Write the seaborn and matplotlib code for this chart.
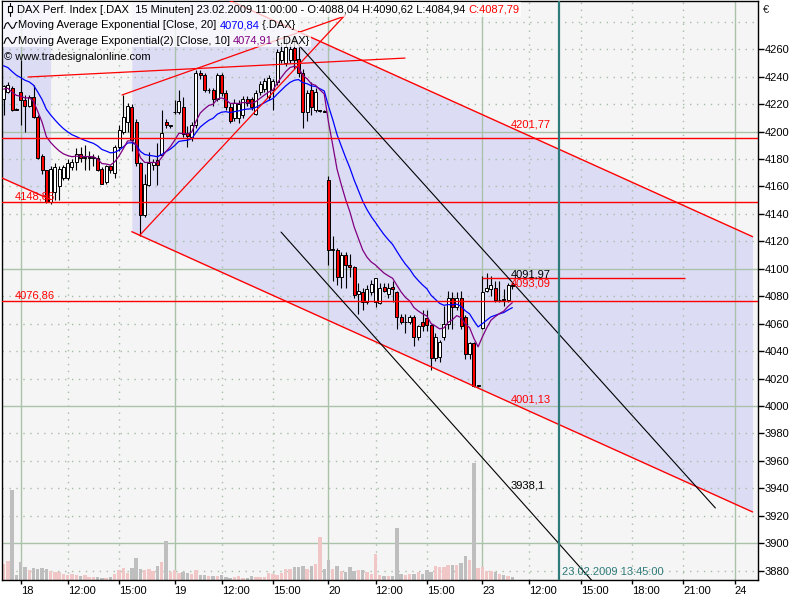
import numpy as np
import matplotlib
matplotlib.use("Agg")
import matplotlib.pyplot as plt
from matplotlib.patches import Rectangle
from matplotlib.lines import Line2D
import matplotlib.transforms as mtransforms
import seaborn as sns

# ===========================
# 1. DATA  (15 min bars, 36 bars per trading day)
# ===========================
opens = [4224, 4229, 4232, 4216.5, 4229, 4223, 4219, 4225, 4211, 4182,
         4172, 4149, 4156, 4160, 4166, 4166, 4174, 4178, 4184, 4181,
         4181, 4181, 4181, 4173, 4163, 4175, 4170, 4189, 4200, 4207,
         4218, 4207, 4177, 4139, 4161, 4176, 4179, 4183, 4207, 4204,
         4214, 4214, 4218, 4199, 4196, 4205, 4243, 4241, 4230, 4230,
         4224, 4241, 4228, 4218, 4210, 4210, 4212, 4224, 4224, 4213,
         4229, 4231, 4225, 4230, 4236, 4252, 4250, 4252, 4261, 4253,
         4243, 4214, 4230, 4216, 4215, 4215, 4165, 4114, 4114, 4094,
         4110, 4103, 4101, 4082, 4083, 4076, 4083, 4076, 4075, 4087,
         4082, 4087, 4083, 4065, 4061, 4061, 4065, 4050, 4061, 4064,
         4059, 4035, 4036, 4050, 4060, 4079, 4072, 4079, 4065, 4038,
         4046, 4014.5, 4057, 4084, 4085, 4086, 4077, 4078, 4077, 4088.04]
highs = [4234, 4236, 4233, 4217, 4252, 4227, 4227, 4234, 4212, 4184,
         4172, 4175, 4177, 4175, 4176, 4180, 4180, 4188, 4189, 4190,
         4186, 4184, 4183, 4174, 4176, 4176, 4190, 4205, 4227, 4221,
         4220, 4209, 4178, 4169, 4185, 4180, 4192, 4216, 4209, 4205,
         4223, 4230, 4225, 4204, 4207, 4245, 4245, 4243, 4232, 4232,
         4243, 4243, 4230, 4221, 4224, 4223, 4226, 4226, 4225, 4230,
         4237, 4239, 4241, 4238, 4260, 4265, 4268, 4264, 4268, 4262,
         4246, 4230, 4236, 4232, 4216, 4216, 4168, 4124, 4115, 4112,
         4112, 4111, 4102, 4090, 4086, 4088, 4092, 4093, 4090, 4090,
         4090, 4091, 4084, 4067, 4067, 4066, 4066, 4059, 4070, 4070,
         4060, 4053, 4048, 4073, 4084, 4083, 4083, 4084, 4066, 4047,
         4047, 4015, 4095, 4097, 4095, 4091, 4091, 4085, 4090, 4090.62]
lows = [4212, 4228, 4215, 4216, 4205, 4200, 4218, 4210, 4180, 4169,
        4148, 4147, 4150, 4150, 4165, 4165, 4172, 4172, 4178, 4172,
        4172, 4175, 4171, 4162, 4162, 4170, 4166, 4186, 4198, 4200,
        4186, 4175, 4124, 4138, 4160, 4172, 4161, 4182, 4203, 4203,
        4213, 4213, 4196, 4189, 4193, 4203, 4238, 4229, 4228, 4219,
        4222, 4226, 4216, 4206, 4208, 4206, 4210, 4219, 4216, 4212,
        4227, 4229, 4223, 4216, 4234, 4250, 4248, 4250, 4246, 4240,
        4203, 4208, 4212, 4214, 4214, 4214, 4103, 4091, 4088, 4086,
        4086, 4094, 4079, 4067, 4070, 4074, 4081, 4072, 4074, 4083,
        4079, 4076, 4056, 4060, 4053, 4060, 4044, 4048, 4055, 4055,
        4026, 4033, 4032, 4048, 4056, 4056, 4070, 4056, 4034, 4034,
        4014, 4014, 4056, 4083, 4080, 4076, 4076, 4073, 4076, 4084.94]
closes = [4233, 4234, 4216, 4216, 4223, 4219, 4225, 4211, 4181, 4172,
          4149, 4173, 4174, 4173, 4174, 4177, 4178, 4184, 4181, 4181.5,
          4181.5, 4181.5, 4172, 4162, 4175, 4172, 4189, 4201, 4211, 4219,
          4194, 4177, 4139, 4162, 4177, 4178, 4176, 4199, 4205, 4204.5,
          4214.5, 4222, 4198, 4197, 4205, 4243, 4241, 4230, 4230.5, 4224,
          4241, 4228, 4218, 4208, 4221, 4220, 4224, 4221, 4218, 4228,
          4235, 4237, 4239, 4237, 4258, 4259, 4262, 4260, 4252, 4243,
          4214, 4228, 4218, 4229, 4215.5, 4214.5, 4114, 4114.5, 4094, 4110,
          4103, 4101, 4081, 4084, 4076, 4085, 4089, 4093, 4086, 4084,
          4086, 4085, 4065, 4061, 4061.5, 4065, 4050, 4058, 4058, 4059,
          4035, 4050, 4047, 4060, 4079, 4072, 4079, 4058, 4038, 4046,
          4014.5, 4015, 4083, 4086, 4088, 4077, 4077.5, 4077, 4088, 4087.79]
volume = [16, 19, 90, 5, 18, 13.5, 10, 12, 11, 12,
          11, 9.5, 8, 8, 6, 5, 6, 5, 4.5, 5,
          3.5, 3, 3, 2, 2, 3.5, 6, 10, 12, 7,
          12, 22, 11, 10, 11, 9.5, 14, 18.5, 39.5, 8,
          10, 7, 8, 7, 6, 10, 5, 5, 4.5, 4,
          4, 5, 3.5, 2.5, 3.5, 4, 2.5, 2.5, 4, 3.5,
          3.5, 3.5, 7, 6, 5, 7, 11, 11, 13.5, 13.5,
          14, 11, 14, 16, 43, 11, 20, 11, 14, 9.5,
          8, 13, 9.5, 10, 10, 8.5, 6, 26, 5, 4.5,
          4.5, 4, 52, 6, 5, 6, 6, 8.5, 6, 10,
          8.5, 14, 13, 13.5, 15, 15, 15, 17, 24, 20,
          117, 12, 13.5, 9.5, 9.5, 8.5, 6.5, 5, 4, 3]
VOL_PANE = 579            # volume units spanning the full chart height

EMA20_START = 4248.0      # EMA levels at the left edge
EMA10_START = 4231.0

tick_pos = [4, 15, 27, 40, 51, 63, 76, 87, 99, 112, 123, 135, 147, 159, 171]
tick_labels = ["18", "12:00", "15:00", "19", "12:00", "15:00", "20", "12:00",
               "15:00", "23", "12:00", "15:00", "18:00", "21:00", "24"]
day_starts = [4, 40, 76, 112, 171]
price_ticks = list(range(3880, 4261, 20))
grid_levels = list(range(3880, 4281, 20))

# drawing tools
red_levels = [4195.1, 4148.86, 4076.86]
left_labels = [("4148,86", 4148.86), ("4076,86", 4076.86)]
short_level = (4093.09, 112, 159.5)

channel_x = [30, 175.2]
channel_low0 = 4127.05
channel_slope = -1.4067
channel_width = 200.64

prev_x = [-0.4, 11.0]
prev_low = [4166.2, 4150.5]

black_upper = ([68.4, 166.5], [4265.3, 3925.7])
black_lower = ([64.9, 138.5], [4126.8, 3869.7])
red_flat = ([5.7, 93.9], [4239.8, 4253.6])
red_a = ([27.7, 79.9], [4226.7, 4284.3])
red_b = ([31.8, 79.9], [4124.3, 4285.0])

right_labels = [("4201,77", "red", 4201.77, "bottom"),
                ("4091,97", "black", 4091.97, "bottom"),
                ("4093,09", "red", 4093.09, "top"),
                ("4001,13", "red", 4001.13, "bottom"),
                ("3938,1", "black", 3938.1, "bottom")]
label_bar = 118.7
left_label_bar = 2.7
now_bar = 130

# ===========================
# 2. DERIVED SERIES
# ===========================
bars = np.arange(len(closes))
o = np.array(opens)
c = np.array(closes)
up = c >= o

ema20 = [EMA20_START]
ema10 = [EMA10_START]
for v in closes[1:]:
    ema20.append(ema20[-1] + 2 / 21 * (v - ema20[-1]))
    ema10.append(ema10[-1] + 2 / 11 * (v - ema10[-1]))

# ===========================
# 3. PLOT
# ===========================
sns.set_theme(style="white")
plt.rcParams['font.family'] = ['Liberation Sans', 'DejaVu Sans']
plt.rcParams['font.size'] = 8

W, H = 800, 600
fig = plt.figure(figsize=(8, 6), dpi=100)
fig.patch.set_facecolor('white')
ax = fig.add_axes([2 / W, 20 / H, 756 / W, 579 / H])
ax.set_facecolor('#f5f5f5')
XLIM = (-0.37, 176.47)
YLIM = (3873.2, 4295.2)
ax.set_xlim(*XLIM)
ax.set_ylim(*YLIM)

LAV = '#dcdcf5'
# shaded regression channels
ax.fill_between(prev_x, prev_low, [YLIM[1] + 50] * 2, color=LAV, lw=0, zorder=0.5)
ax.plot(prev_x, prev_low, color='red', lw=1, zorder=4)

cx = np.array(channel_x)
ch_low = channel_low0 + channel_slope * (cx - channel_x[0])
ch_up = ch_low + channel_width
ax.fill_between(cx, ch_low, ch_up, color=LAV, lw=0, zorder=0.5)
ax.plot(cx, ch_low, color='red', lw=1, zorder=4)
ax.plot(cx, ch_up, color='red', lw=1, zorder=4)

# grid
for lv in grid_levels:
    if lv % 100 == 0:
        ax.axhline(lv, color='#aac2aa', lw=1, zorder=1)
    else:
        ax.axhline(lv, color='#a8bca8', lw=1, ls=(0, (1, 4)), zorder=1)
for tp in tick_pos:
    if tp in day_starts:
        ax.axvline(tp, color='#aac2aa', lw=1, zorder=1)
    else:
        ax.axvline(tp, color='#a8bca8', lw=1, ls=(0, (1, 4)), zorder=1)

# volume pane
vax = ax.inset_axes([0, 0, 1, 1])
vax.set_xlim(*XLIM)
vax.set_ylim(0, VOL_PANE)
vax.axis('off')
vax.patch.set_alpha(0)
vax.set_zorder(1.5)
vax.bar(bars, volume, width=0.8, color=np.where(up, '#f0c6c6', '#bebebe'), lw=0)

# candles
ax.vlines(bars, lows, highs, color='black', lw=0.8, zorder=3)
ax.bar(bars, np.abs(c - o), bottom=np.minimum(o, c), width=0.7,
       color=np.where(up, 'white', 'red'), edgecolor='black', lw=0.7, zorder=3.2)

# moving averages
sns.lineplot(x=bars, y=ema20, color='#0000ff', lw=0.9, ax=ax, zorder=3.5, legend=False)
sns.lineplot(x=bars, y=ema10, color='#800080', lw=0.9, ax=ax, zorder=3.5, legend=False)

# trend lines / levels
for lv in red_levels:
    ax.axhline(lv, color='red', lw=1, zorder=4)
ax.hlines(short_level[0], short_level[1], short_level[2], color='red', lw=1, zorder=4)
for xs, ys in (red_flat, red_a, red_b):
    ax.plot(xs, ys, color='red', lw=0.9, zorder=4)
for xs, ys in (black_upper, black_lower):
    ax.plot(xs, ys, color='black', lw=0.8, zorder=4)
ax.axvline(now_bar, color='#2f7a7a', lw=1.6, zorder=4)

for txt, val in left_labels:
    ax.text(left_label_bar, val, txt, color='red', fontsize=8, ha='left', va='bottom', zorder=6)
for txt, col, val, va in right_labels:
    ax.text(label_bar, val, txt, color=col, fontsize=8, ha='left', va=va, zorder=6)
ax.text(now_bar + 0.6, 0.0135, "23.02.2009 13:45:00", color='#2f7a7a', fontsize=8,
        ha='left', va='center', transform=ax.get_xaxis_transform(), zorder=6)

# axes
ax.set_xticks(tick_pos)
ax.set_xticklabels(tick_labels)
offset = mtransforms.ScaledTranslation(2 / 72, 0, fig.dpi_scale_trans)
for lab in ax.get_xticklabels():
    lab.set_horizontalalignment('left')
    lab.set_transform(lab.get_transform() + offset)
ax.tick_params(axis='x', direction='out', length=3, width=1, color='black', pad=1,
               labelsize=8, labelcolor='black', bottom=True)
ax.yaxis.tick_right()
ax.set_yticks(price_ticks)
ax.set_yticklabels([str(p) for p in price_ticks])
ax.tick_params(axis='y', direction='out', length=4, width=1, color='black', pad=1,
               labelsize=8, labelcolor='black', right=True)
ax.set_xlabel("")
ax.set_ylabel("")
for sp in ax.spines.values():
    sp.set_color('black')
    sp.set_linewidth(1)
fig.text(763 / W, 1 - 10 / H, "€", fontsize=8, ha='left', va='center')

# ===========================
# 4. HEADER / LEGEND
# ===========================
renderer = fig.canvas.get_renderer()


def text_row(x0, yc, parts):
    x = x0
    for s, col in parts:
        t = fig.text(x / W, 1 - yc / H, s, color=col, fontsize=8, ha='left', va='center', zorder=11)
        x += t.get_window_extent(renderer).width
    return x


def white_box(x0, y0, x1, y1):
    fig.add_artist(Rectangle((x0 / W, 1 - y1 / H), (x1 - x0) / W, (y1 - y0) / H,
                             transform=fig.transFigure, facecolor='white', alpha=0.75,
                             edgecolor='none', zorder=10))


def wave_icon(x0, yc):
    xs = np.array([0, 2, 4, 6, 8, 10, 12, 13]) + x0
    ys = np.array([3, -2, -3, 0, 3, 2, -3, -3]) + yc
    fig.add_artist(Line2D(xs / W, 1 - ys / H, color='black', lw=0.8, zorder=12))


end1 = text_row(17, 10, [("DAX Perf. Index [.DAX  15 Minuten] 23.02.2009 11:00:00 - O:4088,04 H:4090,62 L:4084,94 ", 'black'),
                         ("C:4087,79", 'red')])
white_box(3, 2, end1 + 2, 17)
end2 = text_row(18, 25.5, [("Moving Average Exponential [Close, 20] ", 'black'),
                           ("4070,84", '#0000ff'), (" {.DAX}", 'black')])
white_box(3, 17, end2 + 2, 32)
end3 = text_row(18, 40.5, [("Moving Average Exponential(2) [Close, 10] ", 'black'),
                           ("4074,91", '#800080'), (" {.DAX}", 'black')])
white_box(3, 32, end3 + 2, 47)
wave_icon(4, 25.5)
wave_icon(4, 40.5)
text_row(4, 56.5, [("\u00a9 www.tradesignalonline.com", 'black')])

# candle icon in the header
fig.add_artist(Line2D([9.5 / W, 9.5 / W], [1 - 3 / H, 1 - 16 / H], color='black', lw=0.8, zorder=12))
fig.add_artist(Rectangle((7.5 / W, 1 - 12 / H), 4 / W, 6 / H, transform=fig.transFigure,
                         facecolor='white', edgecolor='black', lw=0.8, zorder=12))

plt.savefig("out.png", dpi=100)
plt.close()
